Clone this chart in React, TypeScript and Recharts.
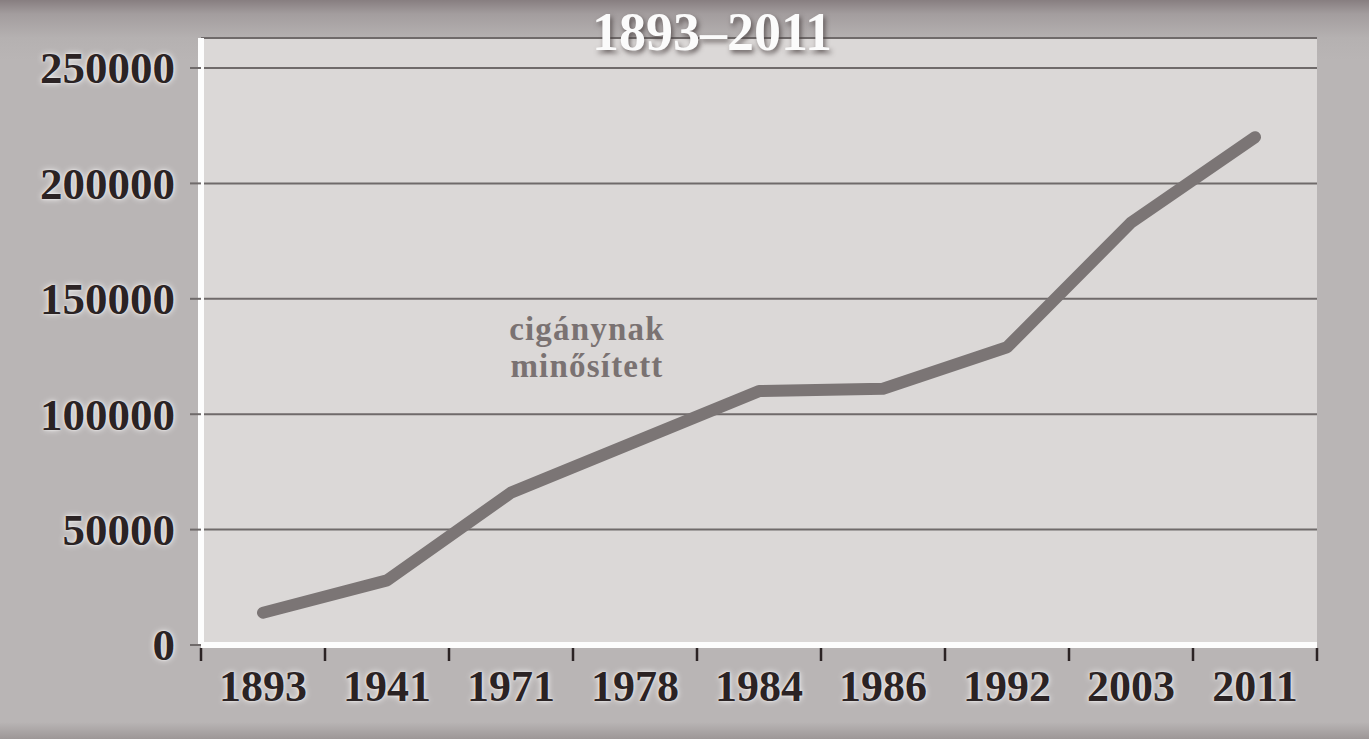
import { CartesianGrid, Line, LineChart, XAxis, YAxis } from 'recharts'

const YEARS = ['1893', '1941', '1971', '1978', '1984', '1986', '1992', '2003', '2011']
const COUNTS = [14000, 28000, 66000, 88000, 110000, 111000, 129000, 183000, 220000]
const Y_TICKS = [0, 50000, 100000, 150000, 200000, 250000]
const Y_MAX = 263000

const TITLE = '1893–2011'
const NOTE = ['cigánynak', 'minősített']

const SERIF = '"Liberation Serif", "Times New Roman", serif'
const INK = '#2b2324'
const GLOW = '0 0 6px rgba(255,255,255,0.9), 0 0 2px rgba(255,255,255,0.9)'

const data = YEARS.map((year, i) => ({ year, value: COUNTS[i] }))

function YearTick(props: any) {
  const { x, y, payload, index } = props
  const half = payload?.offset || 62
  const last = index === YEARS.length - 1
  return (
    <g>
      <line x1={x - half} x2={x - half} y1={y + 3} y2={y + 16} stroke={INK} strokeWidth={2.5} />
      {last && <line x1={x + half} x2={x + half} y1={y + 3} y2={y + 16} stroke={INK} strokeWidth={2.5} />}
      <text
        x={x}
        y={y + 56}
        textAnchor="middle"
        fontFamily={SERIF}
        fontWeight={700}
        fontSize={44}
        fill={INK}
        style={{ textShadow: GLOW }}
      >
        {payload.value}
      </text>
    </g>
  )
}

function CountTick(props: any) {
  const { x, y, payload } = props
  return (
    <text
      x={x}
      y={y}
      dy="0.34em"
      textAnchor="end"
      fontFamily={SERIF}
      fontWeight={700}
      fontSize={45}
      fill={INK}
      style={{ textShadow: GLOW }}
    >
      {payload.value}
    </text>
  )
}

export default function App() {
  return (
    <div
      style={{
        position: 'absolute',
        left: 0,
        top: 0,
        width: 1369,
        height: 739,
        overflow: 'hidden',
        background:
          'linear-gradient(to bottom, #877e80 0px, #a39d9e 14px, #b5b1b1 38px, #b9b5b5 60px, #b9b5b5 722px, #9d9797 739px)',
      }}
    >
      <LineChart width={1369} height={739} data={data} margin={{ top: 38, right: 52, bottom: 34, left: 0 }}>
        <CartesianGrid vertical={false} stroke="#6f6a6a" strokeWidth={2} fill="#dbd8d7" fillOpacity={1} />
        <XAxis
          dataKey="year"
          scale="band"
          height={60}
          tickSize={0}
          tickMargin={0}
          tickLine={false}
          axisLine={{ stroke: '#fdfdfd', strokeWidth: 6 }}
          tick={<YearTick />}
          interval={0}
        />
        <YAxis
          width={201}
          domain={[0, Y_MAX]}
          ticks={Y_TICKS}
          tickSize={11}
          tickMargin={15}
          tickLine={{ stroke: '#6f6a6a', strokeWidth: 2 }}
          axisLine={{ stroke: '#fdfdfd', strokeWidth: 6 }}
          tick={<CountTick />}
          interval={0}
        />
        <Line
          dataKey="value"
          stroke="#7b7575"
          strokeWidth={12}
          strokeLinecap="round"
          strokeLinejoin="round"
          dot={false}
          activeDot={false}
          isAnimationActive={false}
        />
      </LineChart>
      <div
        style={{
          position: 'absolute',
          left: 512,
          top: 5,
          width: 400,
          textAlign: 'center',
          fontFamily: SERIF,
          fontWeight: 700,
          fontSize: 54,
          lineHeight: 1,
          color: '#fbfbfb',
          textShadow: '2px 3px 5px rgba(70,60,60,0.75)',
        }}
      >
        {TITLE}
      </div>
      <div
        style={{
          position: 'absolute',
          left: 437,
          top: 311,
          width: 300,
          textAlign: 'center',
          fontFamily: SERIF,
          fontWeight: 700,
          fontSize: 33,
          lineHeight: '37px',
          letterSpacing: 1.2,
          color: '#7a7272',
        }}
      >
        {NOTE.map((line) => (
          <div key={line}>{line}</div>
        ))}
      </div>
    </div>
  )
}
